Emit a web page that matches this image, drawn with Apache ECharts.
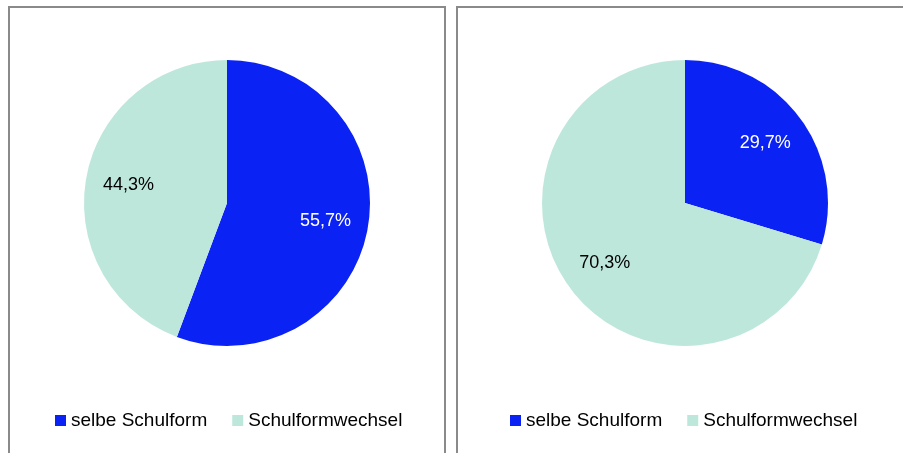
<!DOCTYPE html>
<html>
<head>
<meta charset="utf-8">
<script src="https://cdn.jsdelivr.net/npm/echarts@6/dist/echarts.min.js"></script>
<style>
  html, body { margin: 0; padding: 0; background: #fff; }
  #main { position: absolute; left: 0; top: 0; width: 903px; height: 453px; }
  .panel { position: absolute; border: 2px solid #8a8a8a; pointer-events: none; }
</style>
</head>
<body>
<div id="main"></div>
<div class="panel" style="left:8px; top:6px; width:434px; height:460px;"></div>
<div class="panel" style="left:456px; top:6px; width:460px; height:460px;"></div>
<script>
  // Kategorien und Anteile (in %)
  var kategorien = ['selbe Schulform', 'Schulformwechsel'];
  var linksWerte = [55.7, 44.3];
  var rechtsWerte = [29.7, 70.3];
  var farben = ['#0a22f4', '#bee7dc'];
  var labelFarben = ['#ffffff', '#000000'];

  function toData(werte) {
    var arr = [];
    for (var i = 0; i < werte.length; i++) {
      arr.push({ name: kategorien[i], value: werte[i],
        itemStyle: { color: farben[i] },
        label: { color: labelFarben[i] } });
    }
    return arr;
  }

  // sichtbarer Kreis ohne Beschriftung
  function pie(werte, center) {
    return {
      type: 'pie', center: center, radius: [0, 143],
      startAngle: 90, clockwise: true, silent: true,
      label: { show: false }, labelLine: { show: false },
      emphasis: { disabled: true },
      data: toData(werte)
    };
  }

  // unsichtbarer groesserer Kreis, nur fuer die Beschriftung (sitzt bei ~70% des Radius)
  function labels(werte, center) {
    var d = toData(werte);
    for (var i = 0; i < d.length; i++) d[i].itemStyle = { color: 'rgba(0,0,0,0)' };
    return {
      type: 'pie', center: center, radius: [0, 194],
      startAngle: 90, clockwise: true, silent: true,
      label: {
        show: true, position: 'inside',
        fontFamily: 'Liberation Sans', fontSize: 18,
        formatter: function (p) { return p.value.toFixed(1).replace('.', ',') + '%'; }
      },
      labelLine: { show: false },
      emphasis: { disabled: true },
      data: d
    };
  }

  var legendStyle = {
    icon: 'rect', itemWidth: 11, itemHeight: 11, itemGap: 25,
    top: 411, padding: 0, selectedMode: false,
    textStyle: { fontFamily: 'Liberation Sans', fontSize: 19, color: '#000' },
    data: kategorien
  };

  var chart = echarts.init(document.getElementById('main'));
  chart.setOption({
    animation: false,
    legend: [
      Object.assign({}, legendStyle, { left: 55 }),
      Object.assign({}, legendStyle, { left: 510 })
    ],
    series: [
      pie(linksWerte, [227, 203]),
      pie(rechtsWerte, [685, 203]),
      labels(linksWerte, [227, 203]),
      labels(rechtsWerte, [685, 203])
    ]
  });
</script>
</body>
</html>
